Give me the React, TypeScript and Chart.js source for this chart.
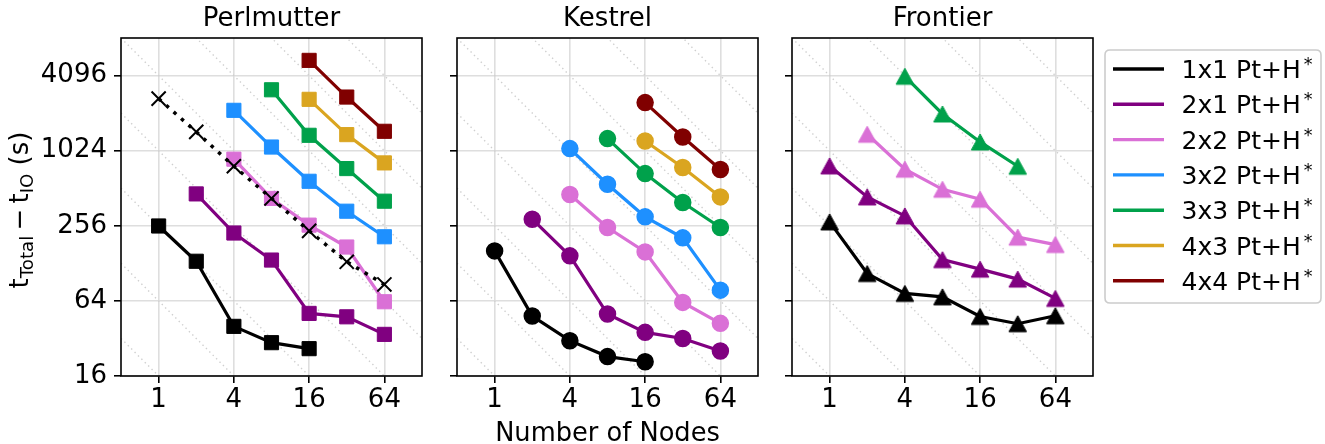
import React, { useEffect, useRef } from 'react';
import { Chart, registerables } from 'chart.js';

Chart.register(...registerables);

// ---------------- data ----------------
const NODES = [1, 2, 4, 8, 16, 32, 64];
const SERIES_LABELS = ['1x1 Pt+H', '2x1 Pt+H', '2x2 Pt+H', '3x2 Pt+H', '3x3 Pt+H', '4x3 Pt+H', '4x4 Pt+H'];
const SERIES_COLORS = ['#000000', '#800080', '#DA70D6', '#1E90FF', '#00A14B', '#DAA520', '#800000'];
const PANEL_TITLES = ['Perlmutter', 'Kestrel', 'Frontier'];
const X_TICKS = [1, 4, 16, 64];
const Y_TICKS = [16, 64, 256, 1024, 4096];
const X_MIN = 0.5;
const X_MAX = 128;
const Y_MIN = 16;
const Y_MAX = 8192;
// reference lines x*y = 2^k
const DIAG_EXPONENTS = [4, 6, 8, 10, 12, 14, 16, 18, 20];

// Perlmutter
const PERL_1X1 = [255, 133, 40, 29.6, 26.5, null, null];
const PERL_2X1 = [null, 461, 224, 136, 50.8, 47.7, 34.5];
const PERL_2X2 = [null, null, 875, 424, 259, 173, 63];
const PERL_3X2 = [null, null, 2156, 1095, 582, 335, 209];
const PERL_3X3 = [null, null, null, 3150, 1360, 736, 403];
const PERL_4X3 = [null, null, null, null, 2641, 1377, 817];
const PERL_4X4 = [null, null, null, null, 5420, 2755, 1464];
const PERL_REF = [2675, 1448, 768, 424, 233, 131.6, 86.7];

// Kestrel
const KEST_1X1 = [161, 48.4, 30.7, 22.9, 20.8, null, null];
const KEST_2X1 = [null, 289, 147, 50.2, 35.8, 32, 25.4];
const KEST_2X2 = [null, null, 456, 248, 158, 62.2, 42.3];
const KEST_3X2 = [null, null, 1064, 551, 302, 205, 78];
const KEST_3X3 = [null, null, null, 1279, 671, 393, 248];
const KEST_4X3 = [null, null, null, null, 1225, 750, 436];
const KEST_4X4 = [null, null, null, null, 2486, 1318, 723];

// Frontier
const FRON_1X1 = [275, 106, 73.5, 69, 48, 42, 48.6];
const FRON_2X1 = [773, 436, 307, 137, 115, 95.7, 67];
const FRON_2X2 = [null, 1386, 727, 502, 418, 207.5, 181];
const FRON_3X2 = [null, null, null, null, null, null, null];
const FRON_3X3 = [null, null, 4040, 2015, 1203, 768, null];
const FRON_4X3 = [null, null, null, null, null, null, null];
const FRON_4X4 = [null, null, null, null, null, null, null];

const PANEL_SERIES = [
  [PERL_1X1, PERL_2X1, PERL_2X2, PERL_3X2, PERL_3X3, PERL_4X3, PERL_4X4],
  [KEST_1X1, KEST_2X1, KEST_2X2, KEST_3X2, KEST_3X3, KEST_4X3, KEST_4X4],
  [FRON_1X1, FRON_2X1, FRON_2X2, FRON_3X2, FRON_3X3, FRON_4X3, FRON_4X4],
];

// ---------------- layout ----------------
const W = 1325;
const H = 444;
const PANEL_LEFT = [121, 457, 792];
const PANEL_W = 301;
const PLOT_TOP = 38;
const PLOT_BOTTOM = 376;
const FONT = '"DejaVu Sans"';
const TICK_SIZE = 26;

function toPoints(vals: (number | null)[]) {
  const out: { x: number; y: number }[] = [];
  NODES.forEach((n, j) => {
    const v = vals[j];
    if (v != null) out.push({ x: n, y: v });
  });
  return out;
}

function triangleImage(color: string) {
  const c = document.createElement('canvas');
  c.width = 22;
  c.height = 22;
  const g = c.getContext('2d')!;
  g.fillStyle = color;
  g.strokeStyle = color;
  g.lineWidth = 1;
  g.lineJoin = 'miter';
  g.beginPath();
  g.moveTo(11, 3);
  g.lineTo(19.8, 19);
  g.lineTo(2.2, 19);
  g.closePath();
  g.fill();
  g.stroke();
  return c;
}

function drawYTitle(ctx: CanvasRenderingContext2D) {
  const main = 26;
  const sub = 18.2;
  const segs = [
    { t: 't', s: false },
    { t: 'Total', s: true },
    { t: '\u2009\u2212\u2009', s: false },
    { t: 't', s: false },
    { t: 'IO', s: true },
    { t: ' (s)', s: false },
  ];
  ctx.save();
  ctx.translate(28, 210);
  ctx.rotate(-Math.PI / 2);
  ctx.fillStyle = '#000';
  ctx.textBaseline = 'alphabetic';
  ctx.textAlign = 'left';
  let total = 0;
  const widths = segs.map((sg) => {
    ctx.font = `${sg.s ? sub : main}px ${FONT}`;
    const w = ctx.measureText(sg.t).width;
    total += w;
    return w;
  });
  let x = -total / 2;
  segs.forEach((sg, i) => {
    ctx.font = `${sg.s ? sub : main}px ${FONT}`;
    ctx.fillText(sg.t, x, sg.s ? 5 : 0);
    x += widths[i];
  });
  ctx.restore();
}

function drawXTitle(ctx: CanvasRenderingContext2D) {
  ctx.save();
  ctx.font = `25.7px ${FONT}`;
  ctx.fillStyle = '#000';
  ctx.textAlign = 'center';
  ctx.textBaseline = 'alphabetic';
  ctx.fillText('Number of Nodes', PANEL_LEFT[1] + PANEL_W / 2, 441);
  ctx.restore();
}

function drawLegend(ctx: CanvasRenderingContext2D) {
  const bx = 1105, by = 50, bw = 216, bh = 253, r = 5;
  ctx.save();
  ctx.beginPath();
  ctx.moveTo(bx + r, by);
  ctx.lineTo(bx + bw - r, by);
  ctx.quadraticCurveTo(bx + bw, by, bx + bw, by + r);
  ctx.lineTo(bx + bw, by + bh - r);
  ctx.quadraticCurveTo(bx + bw, by + bh, bx + bw - r, by + bh);
  ctx.lineTo(bx + r, by + bh);
  ctx.quadraticCurveTo(bx, by + bh, bx, by + bh - r);
  ctx.lineTo(bx, by + r);
  ctx.quadraticCurveTo(bx, by, bx + r, by);
  ctx.closePath();
  ctx.fillStyle = 'rgba(255,255,255,0.8)';
  ctx.fill();
  ctx.strokeStyle = '#cccccc';
  ctx.lineWidth = 1.6;
  ctx.stroke();
  SERIES_LABELS.forEach((lab, i) => {
    const cy = 69 + i * 35.3;
    ctx.beginPath();
    ctx.moveTo(1113, cy);
    ctx.lineTo(1164, cy);
    ctx.strokeStyle = SERIES_COLORS[i];
    ctx.lineWidth = 3.4;
    ctx.lineCap = 'butt';
    ctx.stroke();
    ctx.fillStyle = '#000';
    ctx.textAlign = 'left';
    ctx.textBaseline = 'alphabetic';
    ctx.font = `25px ${FONT}`;
    ctx.fillText(lab, 1181.5, cy + 9.1);
    const w = ctx.measureText(lab).width;
    ctx.font = `17.5px ${FONT}`;
    ctx.fillText('*', 1181.5 + w + 3, cy + 1);
  });
  ctx.restore();
}

function makeConfig(panel: number): any {
  const values = PANEL_SERIES[panel];
  const datasets: any[] = [];
  values.forEach((vals, i) => {
    const color = SERIES_COLORS[i];
    const ds: any = {
      label: SERIES_LABELS[i],
      data: toPoints(vals),
      borderColor: color,
      backgroundColor: color,
      borderWidth: 3.2,
      tension: 0,
      fill: false,
      order: 100 - i,
      pointHoverRadius: 0,
    };
    if (panel === 0) {
      ds.pointStyle = 'rect';
      ds.pointRadius = 10;
      ds.pointBorderWidth = 1;
    } else if (panel === 1) {
      ds.pointStyle = 'circle';
      ds.pointRadius = 8;
      ds.pointBorderWidth = 1.5;
    } else {
      ds.pointStyle = triangleImage(color);
      ds.pointRadius = 11;
      ds.pointBorderWidth = 0;
    }
    datasets.push(ds);
  });
  if (panel === 0) {
    datasets.push({
      label: 'reference',
      data: toPoints(PERL_REF),
      borderColor: '#000',
      backgroundColor: '#000',
      borderWidth: 3.5,
      borderDash: [3.5, 6.5],
      tension: 0,
      fill: false,
      order: 0,
      pointStyle: 'crossRot',
      pointRadius: 10,
      pointBorderWidth: 2,
      pointHoverRadius: 0,
    });
  }

  const decor = {
    id: 'decor' + panel,
    beforeDatasetsDraw(chart: any) {
      const { ctx, chartArea: a, scales } = chart;
      const xs = scales.x, ys = scales.y;
      ctx.save();
      ctx.beginPath();
      ctx.rect(a.left, a.top, a.right - a.left, a.bottom - a.top);
      ctx.clip();
      ctx.strokeStyle = '#cfcfcf';
      ctx.lineWidth = 1.4;
      ctx.setLineDash([1.4, 3.4]);
      DIAG_EXPONENTS.forEach((k) => {
        const c = Math.pow(2, k);
        ctx.beginPath();
        ctx.moveTo(xs.getPixelForValue(X_MIN), ys.getPixelForValue(c / X_MIN));
        ctx.lineTo(xs.getPixelForValue(X_MAX), ys.getPixelForValue(c / X_MAX));
        ctx.stroke();
      });
      ctx.restore();
    },
    afterDraw(chart: any) {
      const { ctx, chartArea: a } = chart;
      ctx.save();
      ctx.strokeStyle = '#000';
      ctx.lineWidth = 1.6;
      ctx.setLineDash([]);
      ctx.strokeRect(a.left, a.top, a.right - a.left, a.bottom - a.top);
      ctx.font = `26px ${FONT}`;
      ctx.fillStyle = '#000';
      ctx.textAlign = 'center';
      ctx.textBaseline = 'alphabetic';
      ctx.fillText(PANEL_TITLES[panel], (a.left + a.right) / 2, 26);
      ctx.restore();
      if (panel === 0) drawYTitle(ctx);
      if (panel === 1) drawXTitle(ctx);
      if (panel === 2) drawLegend(ctx);
    },
  };

  const gridCommon = {
    color: '#dedede',
    lineWidth: 1.6,
    tickColor: '#000',
    tickLength: 7,
    tickWidth: 1.6,
    drawTicks: true,
    drawOnChartArea: true,
  };

  const yAxisWidth = panel === 0 ? PANEL_LEFT[0] : 60;

  return {
    type: 'line',
    data: { datasets },
    plugins: [decor],
    options: {
      animation: false,
      responsive: false,
      maintainAspectRatio: false,
      devicePixelRatio: 1,
      events: [],
      layout: {
        padding: {
          left: PANEL_LEFT[panel] - yAxisWidth,
          right: W - (PANEL_LEFT[panel] + PANEL_W),
          top: PLOT_TOP,
          bottom: 0,
        },
      },
      plugins: {
        legend: { display: false },
        title: { display: false },
        tooltip: { enabled: false },
      },
      scales: {
        x: {
          type: 'logarithmic',
          position: 'bottom',
          min: X_MIN,
          max: X_MAX,
          grid: gridCommon,
          border: { display: false },
          afterBuildTicks: (scale: any) => {
            scale.ticks = X_TICKS.map((v) => ({ value: v }));
          },
          afterFit: (scale: any) => {
            scale.height = H - PLOT_BOTTOM;
          },
          ticks: {
            autoSkip: false,
            maxRotation: 0,
            minRotation: 0,
            padding: 2,
            color: '#000',
            font: { family: 'DejaVu Sans', size: TICK_SIZE },
            callback: (v: any) => String(v),
          },
        },
        y: {
          type: 'logarithmic',
          position: 'left',
          min: Y_MIN,
          max: Y_MAX,
          grid: gridCommon,
          border: { display: false },
          afterBuildTicks: (scale: any) => {
            scale.ticks = Y_TICKS.map((v) => ({ value: v }));
          },
          afterFit: (scale: any) => {
            scale.width = yAxisWidth;
          },
          ticks: {
            autoSkip: false,
            padding: 7,
            color: '#000',
            font: { family: 'DejaVu Sans', size: TICK_SIZE },
            callback: (v: any) => (panel === 0 ? String(v) : ''),
          },
        },
      },
    },
  };
}

function Panel({ index }: { index: number }) {
  const ref = useRef<HTMLCanvasElement | null>(null);
  useEffect(() => {
    if (!ref.current) return;
    const chart = new Chart(ref.current, makeConfig(index));
    return () => chart.destroy();
  }, [index]);
  return (
    <canvas
      ref={ref}
      width={W}
      height={H}
      style={{ position: 'absolute', left: 0, top: 0, width: W, height: H }}
    />
  );
}

export default function App() {
  return (
    <div
      style={{
        position: 'absolute',
        left: 0,
        top: 0,
        width: W,
        height: H,
        background: '#ffffff',
        overflow: 'hidden',
      }}
    >
      <Panel index={0} />
      <Panel index={1} />
      <Panel index={2} />
    </div>
  );
}
